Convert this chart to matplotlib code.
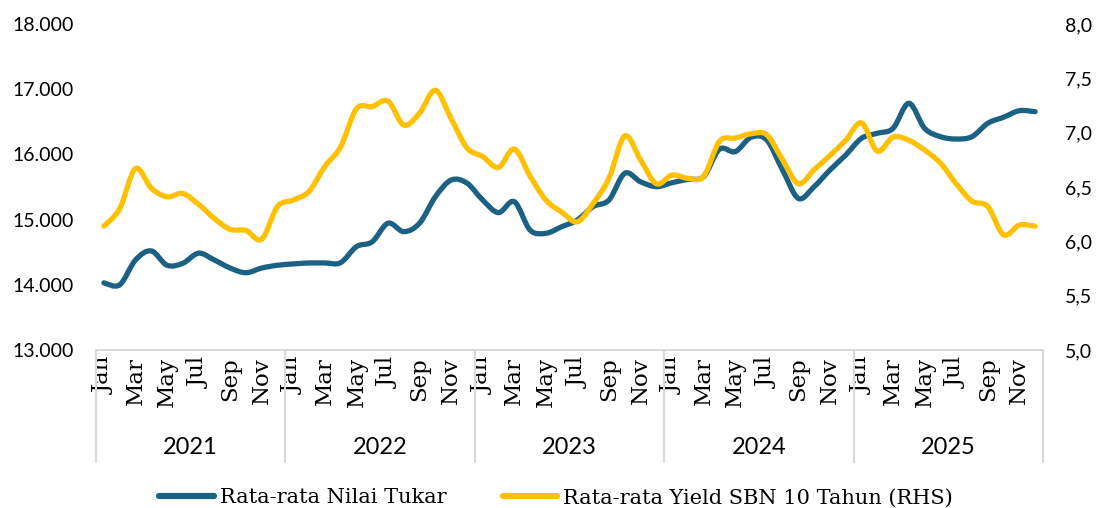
import matplotlib
matplotlib.use("Agg")
import matplotlib.pyplot as plt
import matplotlib.transforms as mtransforms
from matplotlib.path import Path
from matplotlib.patches import PathPatch
from matplotlib.lines import Line2D
from matplotlib.ticker import FuncFormatter

years = ["2021", "2022", "2023", "2024", "2025"]
months = ["Jan", "Feb", "Mar", "Apr", "May", "Jun", "Jul", "Aug", "Sep", "Oct", "Nov", "Dec"]

nilai_tukar = [
    14030, 14000, 14380, 14520, 14300, 14330, 14485, 14380, 14257, 14185, 14257, 14300,
    14320, 14335, 14335, 14340, 14585, 14660, 14945, 14815, 14945, 15350, 15607, 15560,
    15300, 15107, 15275, 14840, 14790, 14890, 14994, 15200, 15300, 15710, 15580, 15505,
    15566, 15618, 15660, 16080, 16042, 16262, 16220, 15760, 15325, 15505, 15760, 15990,
    16247, 16324, 16400, 16784, 16400, 16272, 16236, 16272, 16477, 16570, 16670, 16655,
]
yield_sbn = [
    6.14, 6.30, 6.67, 6.49, 6.41, 6.44, 6.34, 6.21, 6.11, 6.10, 6.02, 6.32,
    6.38, 6.46, 6.69, 6.87, 7.22, 7.24, 7.29, 7.07, 7.18, 7.39, 7.13, 6.86,
    6.78, 6.68, 6.85, 6.60, 6.38, 6.27, 6.18, 6.35, 6.58, 6.97, 6.75, 6.53,
    6.61, 6.58, 6.60, 6.92, 6.95, 6.99, 6.98, 6.75, 6.53, 6.66, 6.79, 6.93,
    7.09, 6.83, 6.96, 6.93, 6.84, 6.72, 6.53, 6.37, 6.32, 6.06, 6.15, 6.14,
]

left_ticks = [13000, 14000, 15000, 16000, 17000, 18000]
right_ticks = [5.0, 5.5, 6.0, 6.5, 7.0, 7.5, 8.0]

BLUE = "#1b6183"
YELLOW = "#ffc000"
GRID = "#d9d9d9"
SERIF = "DejaVu Serif"
SANS = "Lato"


def smooth_path(xs, ys):
    n = len(xs)
    pts = list(zip(xs, ys))
    verts = [pts[0]]
    codes = [Path.MOVETO]
    for i in range(n - 1):
        p0 = pts[i - 1] if i > 0 else pts[i]
        p1 = pts[i]
        p2 = pts[i + 1]
        p3 = pts[i + 2] if i + 2 < n else pts[i + 1]
        c1 = (p1[0] + (p2[0] - p0[0]) / 6.0, p1[1] + (p2[1] - p0[1]) / 6.0)
        c2 = (p2[0] - (p3[0] - p1[0]) / 6.0, p2[1] - (p3[1] - p1[1]) / 6.0)
        verts += [c1, c2, p2]
        codes += [Path.CURVE4] * 3
    return Path(verts, codes)


fig = plt.figure(figsize=(10.99, 5.08), dpi=100)
ax = fig.add_axes([96 / 1099, 1 - 350 / 508, (1043 - 96) / 1099, (350 - 24) / 508])
ax2 = ax.twinx()

n = len(nilai_tukar)
x = list(range(n))

ax.add_patch(PathPatch(smooth_path(x, nilai_tukar), fill=False, edgecolor=BLUE,
                       lw=3.8, capstyle="round", joinstyle="round"))
ax2.add_patch(PathPatch(smooth_path(x, yield_sbn), fill=False, edgecolor=YELLOW,
                        lw=3.8, capstyle="round", joinstyle="round"))

ax.set_xlim(-0.5, n - 0.5)
ax.set_ylim(left_ticks[0], left_ticks[-1])
ax2.set_ylim(right_ticks[0], right_ticks[-1])

ax.set_yticks(left_ticks)
ax.yaxis.set_major_formatter(FuncFormatter(lambda v, p: f"{int(v):,}".replace(",", ".")))
ax2.set_yticks(right_ticks)
ax2.yaxis.set_major_formatter(FuncFormatter(lambda v, p: f"{v:.1f}".replace(".", ",")))

for a in (ax, ax2):
    for s in a.spines.values():
        s.set_visible(False)
ax.spines["bottom"].set_visible(True)
ax.spines["bottom"].set_color(GRID)
ax.spines["bottom"].set_linewidth(1.5)

ax.tick_params(axis="y", length=0, pad=16, labelsize=14, labelcolor="#000000")
ax2.tick_params(axis="y", length=0, pad=16, labelsize=14, labelcolor="#000000")
for lab in ax.get_yticklabels() + ax2.get_yticklabels():
    lab.set_fontfamily(SANS)

tick_pos = list(range(0, n, 2))
tick_lab = [months[i % 12] for i in tick_pos]
ax.set_xticks(tick_pos)
ax.set_xticklabels(tick_lab, rotation=90, fontfamily=SERIF, fontsize=16.5)
ax.tick_params(axis="x", length=0, pad=5)

trans = mtransforms.blended_transform_factory(ax.transData, ax.transAxes)
sep_bottom = -(462 - 350) / 326
for k in range(len(years) + 1):
    xb = k * 12 - 0.5
    ax.plot([xb, xb], [0, sep_bottom], color=GRID, lw=1.5, transform=trans, clip_on=False)
for k, yr in enumerate(years):
    ax.text(k * 12 + 5.5, -(454 - 350) / 326, yr, transform=trans, ha="center", va="baseline",
            fontsize=17, fontfamily=SANS)

handles = [Line2D([], [], color=BLUE, lw=4.5, solid_capstyle="round"),
           Line2D([], [], color=YELLOW, lw=4.5, solid_capstyle="round")]
labels = ["Rata-rata Nilai Tukar", "Rata-rata Yield SBN 10 Tahun (RHS)"]
fig.legend(handles, labels, loc="center", bbox_to_anchor=(0.506, 0.02), ncol=2,
           frameon=False, handlelength=2.6, handletextpad=0.3, columnspacing=2.7,
           prop={"family": SERIF, "size": 15})

fig.savefig("out.png", dpi=100)
